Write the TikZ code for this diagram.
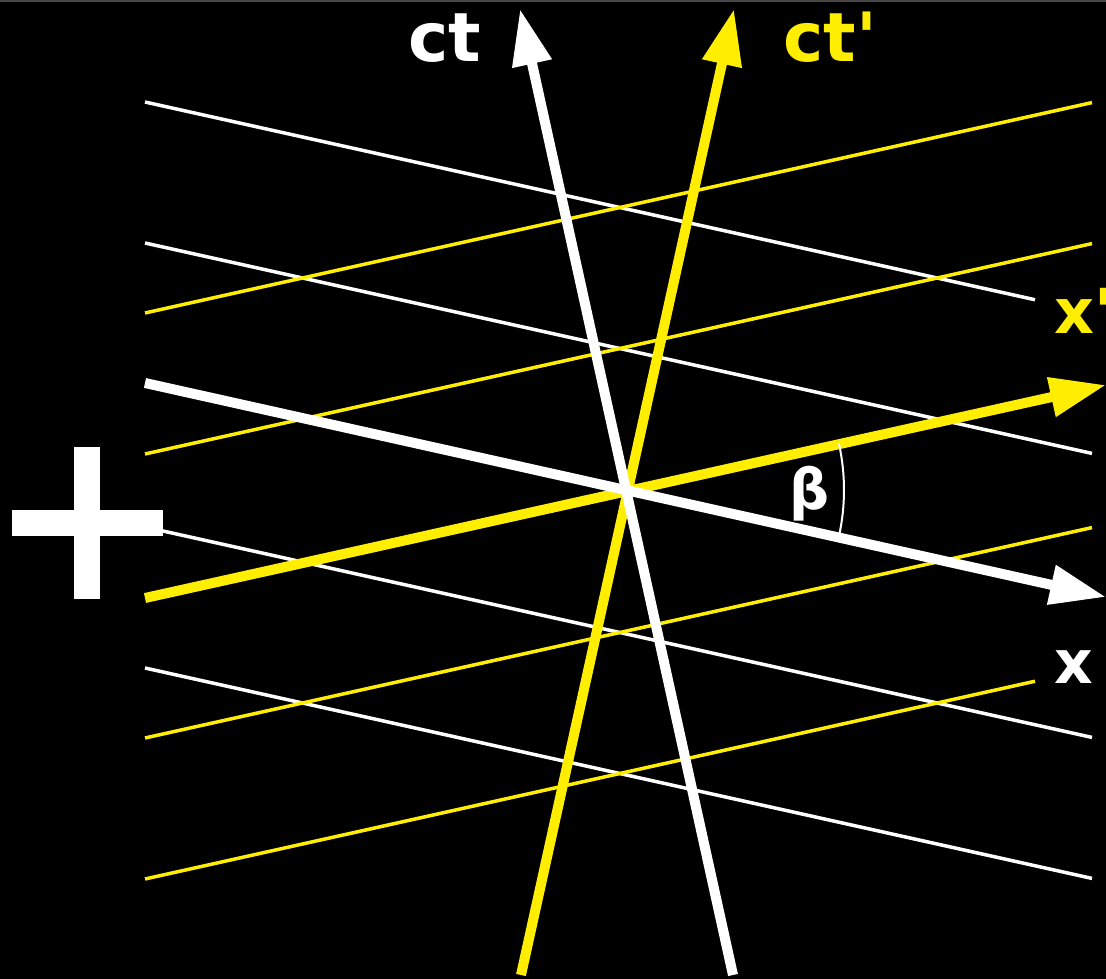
\documentclass[tikz,border=0pt]{standalone}
\usepackage{fontspec}
\setmainfont{DejaVu Sans}
\usetikzlibrary{arrows.meta,calc}
\definecolor{frameyellow}{RGB}{255,238,0}
\definecolor{topgray}{RGB}{70,70,70}

\begin{document}
\begin{tikzpicture}[x=1pt,y=-1pt,
    grid line/.style={line width=3.5pt},
    axis line/.style={line width=10pt,-{Triangle[length=56pt,width=38pt]}},
    axis label/.style={inner sep=0pt,font=\bfseries\fontsize{68}{72}\selectfont}]
  % --- Background ---
  \fill[black] (0,0) rectangle (1106,979);
  \useasboundingbox (0,0) rectangle (1106,979);
  \fill[topgray] (0,0) rectangle (1106,2);
  \def\sl{0.2222}

  % --- Thin lines of both frames ---
  \foreach \ya/\xb in {102/1035,243/1092,527/1092,668/1092}
    \draw[white,grid line] (145,\ya) -- (\xb,{\ya+\sl*(\xb-145)});
  \foreach \ya/\xb in {313/1092,454/1092,738/1092,879/1035}
    \draw[frameyellow,grid line] (145,\ya) -- (\xb,{\ya-\sl*(\xb-145)});

  % --- Axes ---
  \coordinate (O)    at (629,490);
  \coordinate (xW)   at (145,383);
  \coordinate (xE)   at (1106,597);
  \coordinate (xpW)  at (145,598);
  \coordinate (xpE)  at (1106,385);
  \coordinate (ctS)  at (733,975);
  \coordinate (ctN)  at (520,9);
  \coordinate (ctpS) at (521,975);
  \coordinate (ctpN) at (734,9);
  \draw[frameyellow,axis line] (xpW) -- (xpE);
  \draw[frameyellow,axis line] (ctpS) -- (ctpN);
  \draw[white,axis line] (xW) -- (xE);
  \draw[white,axis line] (ctS) -- (ctN);

  % angle between x and x'
  \draw[white,line width=2pt] ([shift={(-12.5:215pt)}]O)
    arc[start angle=-12.5,end angle=12.5,radius=215pt];

  % --- Labels ---
  \node[axis label,white,anchor=base] (ctlabel) at (445,62) {ct};
  \node[axis label,frameyellow,anchor=base west] (ctplabel) at (783,62) {ct\textquotesingle};
  \node[axis label,frameyellow,anchor=base west,font=\bfseries\fontsize{62}{66}\selectfont]
    (xplabel) at (1054,333) {x\textquotesingle};
  \node[axis label,white,anchor=base west,font=\bfseries\fontsize{60}{64}\selectfont]
    (xlabel) at (1054,683) {x};
  \node[white,inner sep=0pt,font=\bfseries\fontsize{56}{60}\selectfont]
    (betalabel) at (810,494) {β};

  % plus sign
  \fill[white] (12,510) rectangle (163,536);
  \fill[white] (74,447) rectangle (100,599);
\end{tikzpicture}
\end{document}
